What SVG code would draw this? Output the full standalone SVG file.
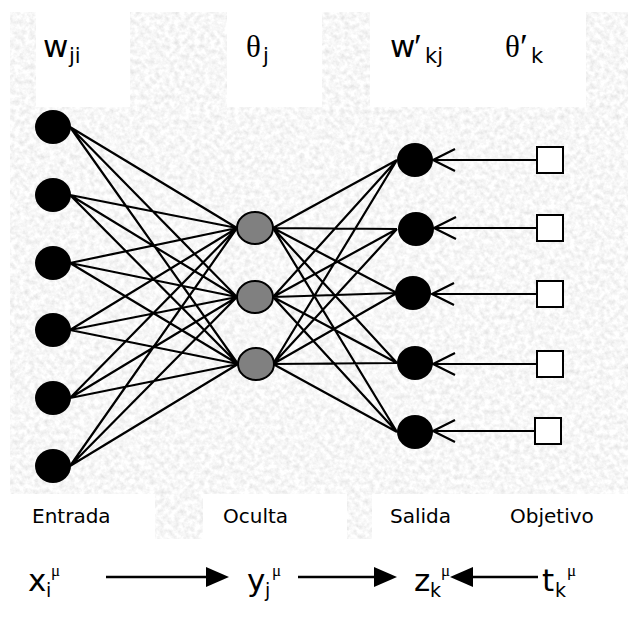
<svg xmlns="http://www.w3.org/2000/svg" width="628" height="631" viewBox="0 0 628 631">
  <defs>
    <!-- speckled grey paper texture -->
    <filter id="grain" x="0" y="0" width="100%" height="100%" filterUnits="objectBoundingBox">
      <feTurbulence type="fractalNoise" baseFrequency="0.2" numOctaves="3" seed="7" result="noise"/>
      <feColorMatrix in="noise" type="matrix" values="0.4 0 0 0 0.73  0.4 0 0 0 0.73  0.4 0 0 0 0.73  0 0 0 0 1" result="grey"/>
      <feComposite in="grey" in2="SourceGraphic" operator="in"/>
    </filter>
    <!-- open V arrowhead for target links -->
    <marker id="vee" markerUnits="userSpaceOnUse" markerWidth="28" markerHeight="28" viewBox="-25 -13 28 26" refX="0" refY="0" orient="auto">
      <path d="M-22,-11 L0,0 L-22,11" fill="none" stroke="#000" stroke-width="2.2"/>
    </marker>
  </defs>
  <style>
    .link { stroke: #000; stroke-width: 2.2; fill: none; }
    .in, .out { fill: #000; }
    .hid { fill: #808080; stroke: #000; stroke-width: 2; }
    .tgt { fill: #fff; stroke: #000; stroke-width: 2; }
    .lbl { font-family: "DejaVu Sans", Verdana, sans-serif; fill: #000; }
    .greek { font-family: "Liberation Serif", "DejaVu Serif", serif; fill: #000; }
    .flow { stroke: #000; stroke-width: 2.5; }
  </style>

  <rect width="628" height="631" fill="#fff"/>

  <!-- textured panel -->
  <rect x="10" y="12" width="618" height="527" fill="#000" filter="url(#grain)"/>

  <!-- white label panels -->
  <g fill="#fff">
    <rect x="36" y="10" width="94" height="97"/>
    <rect x="227" y="10" width="95" height="97"/>
    <rect x="370" y="10" width="216" height="97"/>
    <rect x="10" y="494" width="145" height="46"/>
    <rect x="203" y="494" width="144" height="46"/>
    <rect x="372" y="494" width="256" height="46"/>
  </g>

  <!-- parameter labels -->
  <g id="label-w">
    <text class="lbl" x="43" y="57" font-size="31">w</text>
    <text class="lbl" x="69" y="63" font-size="21">ji</text>
  </g>
  <g id="label-theta">
    <text class="greek" x="246" y="57" font-size="31">θ</text>
    <text class="lbl" x="263" y="63" font-size="21">j</text>
  </g>
  <g id="label-w2">
    <text class="lbl" x="390" y="57" font-size="31">w</text>
    <text class="greek" x="414" y="59" font-size="36">′</text>
    <text class="lbl" x="425" y="63" font-size="21">kj</text>
  </g>
  <g id="label-theta2">
    <text class="greek" x="505" y="57" font-size="31">θ</text>
    <text class="greek" x="520" y="59" font-size="36">′</text>
    <text class="lbl" x="531" y="63" font-size="21">k</text>
  </g>

  <!-- connections -->
  <g id="connectors" class="link">
    <!-- input to hidden -->
    <path d="M70,127 L237,228 M70,127 L237,297 M70,127 L238,364
             M70,195 L237,228 M70,195 L237,297 M70,195 L238,364
             M70,263 L237,228 M70,263 L237,297 M70,263 L238,364
             M70,330 L237,228 M70,330 L237,297 M70,330 L238,364
             M70,398 L237,228 M70,398 L237,297 M70,398 L238,364
             M70,466 L237,228 M70,466 L237,297 M70,466 L238,364"/>
    <!-- hidden to output -->
    <path d="M273,228 L397,160 M273,228 L397,229 M273,228 L397,293 M273,228 L397,363 M273,228 L397,432
             M273,297 L397,160 M273,297 L397,229 M273,297 L397,293 M273,297 L397,363 M273,297 L397,432
             M273,364 L397,160 M273,364 L397,229 M273,364 L397,293 M273,364 L397,363 M273,364 L397,432"/>
    <!-- targets to output -->
    <line x1="537" y1="160" x2="433" y2="160" marker-end="url(#vee)"/>
    <line x1="537" y1="228" x2="434" y2="228" marker-end="url(#vee)"/>
    <line x1="537" y1="294" x2="432" y2="294" marker-end="url(#vee)"/>
    <line x1="537" y1="364" x2="433" y2="364" marker-end="url(#vee)"/>
    <line x1="535" y1="431" x2="433" y2="431" marker-end="url(#vee)"/>
  </g>

  <!-- input layer -->
  <g id="in1"><ellipse class="in" cx="53" cy="127" rx="18" ry="17"/></g>
  <g id="in2"><ellipse class="in" cx="53" cy="195" rx="18" ry="17"/></g>
  <g id="in3"><ellipse class="in" cx="53" cy="263" rx="18" ry="17"/></g>
  <g id="in4"><ellipse class="in" cx="53" cy="330" rx="18" ry="17"/></g>
  <g id="in5"><ellipse class="in" cx="53" cy="398" rx="18" ry="17"/></g>
  <g id="in6"><ellipse class="in" cx="53" cy="466" rx="18" ry="17"/></g>

  <!-- hidden layer -->
  <g id="hid1"><ellipse class="hid" cx="255" cy="228" rx="18" ry="16"/></g>
  <g id="hid2"><ellipse class="hid" cx="255" cy="297" rx="18" ry="16"/></g>
  <g id="hid3"><ellipse class="hid" cx="256" cy="364" rx="18" ry="16"/></g>

  <!-- output layer -->
  <g id="out1"><ellipse class="out" cx="415" cy="160" rx="18" ry="17"/></g>
  <g id="out2"><ellipse class="out" cx="416" cy="229" rx="18" ry="17"/></g>
  <g id="out3"><ellipse class="out" cx="413" cy="293" rx="18" ry="17"/></g>
  <g id="out4"><ellipse class="out" cx="415" cy="363" rx="18" ry="17"/></g>
  <g id="out5"><ellipse class="out" cx="415" cy="432" rx="18" ry="17"/></g>

  <!-- targets -->
  <g id="t1"><rect class="tgt" x="537" y="147" width="26" height="26"/></g>
  <g id="t2"><rect class="tgt" x="537" y="215" width="26" height="26"/></g>
  <g id="t3"><rect class="tgt" x="537" y="281" width="26" height="26"/></g>
  <g id="t4"><rect class="tgt" x="537" y="351" width="26" height="26"/></g>
  <g id="t5"><rect class="tgt" x="535" y="418" width="26" height="26"/></g>

  <!-- layer names -->
  <g id="layer-names" class="lbl" font-size="20">
    <text x="32" y="523">Entrada</text>
    <text x="223" y="523">Oculta</text>
    <text x="390" y="523">Salida</text>
    <text x="510" y="523">Objetivo</text>
  </g>

  <!-- signal flow -->
  <g id="sym-x">
    <text class="lbl" x="28" y="591" font-size="31">x</text>
    <text class="lbl" x="46" y="597" font-size="19">i</text>
    <text class="greek" x="51" y="576" font-size="17">μ</text>
  </g>
  <g id="sym-y">
    <text class="lbl" x="247" y="591" font-size="31">y</text>
    <text class="lbl" x="265" y="597" font-size="19">j</text>
    <text class="greek" x="272" y="576" font-size="17">μ</text>
  </g>
  <g id="sym-z">
    <text class="lbl" x="414" y="591" font-size="31">z</text>
    <text class="lbl" x="430" y="597" font-size="19">k</text>
    <text class="greek" x="441" y="576" font-size="17">μ</text>
  </g>
  <g id="sym-t">
    <text class="lbl" x="542" y="591" font-size="31">t</text>
    <text class="lbl" x="555" y="597" font-size="19">k</text>
    <text class="greek" x="567" y="576" font-size="17">μ</text>
  </g>
  <g id="flow-arrows">
    <line class="flow" x1="106" y1="577" x2="208" y2="577"/>
    <path d="M229,577 L206,567 L206,587 Z"/>
    <line class="flow" x1="298" y1="577" x2="376" y2="577"/>
    <path d="M397,577 L374,567 L374,587 Z"/>
    <line class="flow" x1="468" y1="577" x2="538" y2="577"/>
    <path d="M450,577 L473,567 L473,587 Z"/>
  </g>
</svg>
